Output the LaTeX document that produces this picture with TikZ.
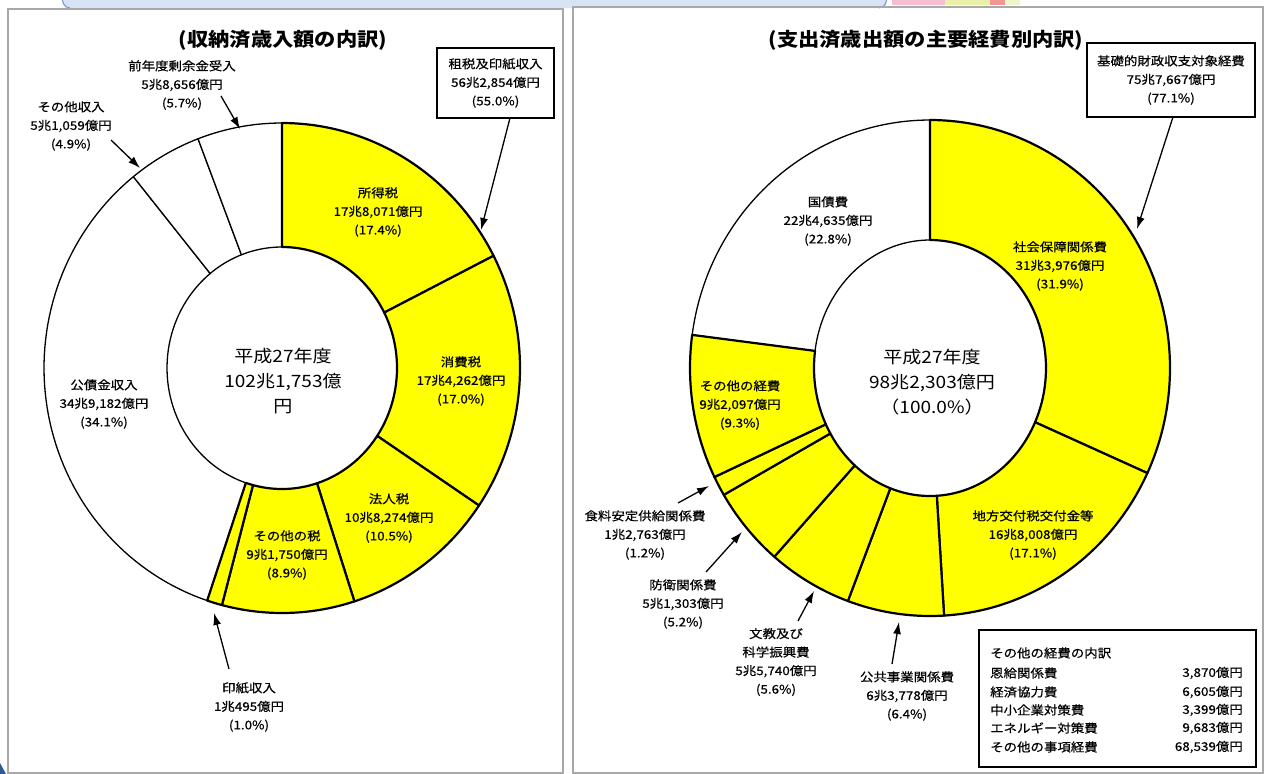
\documentclass[tikz,border=0pt]{standalone}
\usepackage{fontspec}
\setmainfont{Noto Sans CJK JP}[FakeStretch=1.12]
\newfontfamily\lblfont{Noto Sans CJK JP}[FakeStretch=1.12,FakeBold=0.5]
\usetikzlibrary{arrows.meta}
\definecolor{pyel}{RGB}{255,255,0}
\definecolor{panelgray}{RGB}{168,168,168}
\definecolor{bandblue}{RGB}{214,228,245}
\definecolor{bandline}{RGB}{110,140,190}
\definecolor{cornerblue}{RGB}{45,90,150}
\definecolor{flpink}{RGB}{245,190,210}
\definecolor{flyel}{RGB}{232,240,170}
\definecolor{flred}{RGB}{240,150,150}
\newcommand\ringsector[9]{%
  \draw[#9] plot[domain=#7:#8,samples=70] ({#1+#3*sin(\x)},{#2-#4*cos(\x)})
    -- plot[domain=#8:#7,samples=50] ({#1+#5*sin(\x)},{#2-#6*cos(\x)}) -- cycle;}
\begin{document}
\begin{tikzpicture}[x=1pt,y=-1pt,
  lbl/.style={align=center,font=\lblfont\fontsize{12}{18.5}\selectfont,inner sep=0pt},
  ctr/.style={align=center,font=\fontsize{17}{25}\selectfont,inner sep=0pt},
  ttl/.style={font=\bfseries\fontsize{19}{22}\selectfont,inner sep=0pt},
  boxn/.style={draw,line width=1.3pt,align=center,font=\lblfont\fontsize{12}{18.5}\selectfont,inner sep=0pt},
  rowt/.style={font=\lblfont\fontsize{12}{14}\selectfont,inner sep=0pt},
  arr/.style={line width=1.3pt,-{Latex[length=12pt,width=8pt]}},
  wsec/.style={fill=white,draw=black,line width=1.3pt,line join=round},
  ysec/.style={fill=pyel,draw=black,line width=2.2pt,line join=round}]
\useasboundingbox (0,0) rectangle (1275,774);
\fill[white] (0,0) rectangle (1275,774);
% top band and corner decoration
\fill[bandblue,rounded corners=6pt] (62,-10) rectangle (887,8);
\draw[bandline,line width=0.8pt] (62,-4) to[out=-90,in=180] (70,8);
\draw[bandline,line width=0.8pt] (887,-4) to[out=-90,in=0] (879,8);
\fill[flpink] (892,0) rectangle (945,5);
\fill[flyel] (945,0) rectangle (990,5);
\fill[flred] (990,0) rectangle (1005,5);
\fill[flyel!70] (1005,0) rectangle (1020,5);
\fill[cornerblue] (0,763) -- (6,774) -- (0,774) -- cycle;
% panels
\draw[panelgray,line width=1.6pt] (8,9) rectangle (563,773);
\draw[panelgray,line width=1.6pt] (573,7) rectangle (1263,773);

% ================= LEFT DONUT =================
\ringsector{282}{368}{238}{245}{115}{121}{198.32}{321.35}{wsec}
\ringsector{282}{368}{238}{245}{115}{121}{321.35}{339.34}{wsec}
\ringsector{282}{368}{238}{245}{115}{121}{339.34}{360}{wsec}
\ringsector{282}{368}{238}{245}{115}{121}{0}{62.74}{ysec}
\ringsector{282}{368}{238}{245}{115}{121}{62.74}{124.14}{ysec}
\ringsector{282}{368}{238}{245}{115}{121}{124.14}{162.29}{ysec}
\ringsector{282}{368}{238}{245}{115}{121}{162.29}{194.62}{ysec}
\ringsector{282}{368}{238}{245}{115}{121}{194.62}{198.32}{ysec}

\node[ttl] (ltitle) at (283,40) {(収納済歳入額の内訳)};
\node[ctr] (lcenter) at (283,381) {平成27年度\\102兆1,753億\\円};
\node[lbl] (shotoku) at (378,212) {所得税\\17兆8,071億円\\(17.4\%)};
\node[lbl] (shohi) at (461,381) {消費税\\17兆4,262億円\\(17.0\%)};
\node[lbl] (hojin) at (389,518) {法人税\\10兆8,274億円\\(10.5\%)};
\node[lbl] (sonotazei) at (287,555) {その他の税\\9兆1,750億円\\(8.9\%)};
\node[lbl] (kosai) at (104,404) {公債金収入\\34兆9,182億円\\(34.1\%)};
\node[lbl] (zennendo) at (182,85) {前年度剰余金受入\\5兆8,656億円\\(5.7\%)};
\node[lbl] (sonotashu) at (71,126) {その他収入\\5兆1,059億円\\(4.9\%)};
\node[lbl] (inshi) at (249,707) {印紙収入\\1兆495億円\\(1.0\%)};
\node[boxn,minimum width=117pt,minimum height=70pt] (sozei) at (495.5,83) {租税及印紙収入\\56兆2,854億円\\(55.0\%)};

\coordinate (sozeiS) at (510,118);
\coordinate (sozeiT) at (481,230);
\coordinate (zennendoS) at (221,96);
\coordinate (zennendoT) at (240,129);
\coordinate (sonotashuS) at (111,140);
\coordinate (sonotashuT) at (140,168);
\coordinate (inshiS) at (229,669);
\coordinate (inshiT) at (214,613);
\draw[arr] (sozeiS) -- (sozeiT);
\draw[arr] (zennendoS) -- (zennendoT);
\draw[arr] (sonotashuS) -- (sonotashuT);
\draw[arr] (inshiS) -- (inshiT);

% ================= RIGHT DONUT =================
\ringsector{930}{368}{240}{248}{116}{128}{277.67}{360}{wsec}
\ringsector{930}{368}{240}{248}{116}{128}{0}{115.07}{ysec}
\ringsector{930}{368}{240}{248}{116}{128}{115.07}{176.64}{ysec}
\ringsector{930}{368}{240}{248}{116}{128}{176.64}{200.01}{ysec}
\ringsector{930}{368}{240}{248}{116}{128}{200.01}{220.44}{ysec}
\ringsector{930}{368}{240}{248}{116}{128}{220.44}{239.24}{ysec}
\ringsector{930}{368}{240}{248}{116}{128}{239.24}{243.92}{ysec}
\ringsector{930}{368}{240}{248}{116}{128}{243.92}{277.67}{ysec}

\node[ttl] (rtitle) at (926,40) {(支出済歳出額の主要経費別内訳)};
\node[ctr] (rcenter) at (932,382) {平成27年度\\98兆2,303億円\\（100.0\%）};
\node[lbl] (kokusai) at (828,221) {国債費\\22兆4,635億円\\(22.8\%)};
\node[lbl] (shakai) at (1060,266) {社会保障関係費\\31兆3,976億円\\(31.9\%)};
\node[lbl] (chiho) at (1033,535) {地方交付税交付金等\\16兆8,008億円\\(17.1\%)};
\node[lbl] (sonotakei) at (740,405) {その他の経費\\9兆2,097億円\\(9.3\%)};
\node[lbl] (shokuryo) at (645,535) {食料安定供給関係費\\1兆2,763億円\\(1.2\%)};
\node[lbl] (boei) at (683,604) {防衛関係費\\5兆1,303億円\\(5.2\%)};
\node[lbl] (bunkyo) at (776,662) {文教及び\\科学振興費\\5兆5,740億円\\(5.6\%)};
\node[lbl] (kokyo) at (907,696) {公共事業関係費\\6兆3,778億円\\(6.4\%)};
\node[boxn,minimum width=168pt,minimum height=74pt] (kiso) at (1171,80) {基礎的財政収支対象経費\\75兆7,667億円\\(77.1\%)};

\coordinate (kisoS) at (1173,117);
\coordinate (kisoT) at (1137,229);
\coordinate (shokuryoS) at (678,503);
\coordinate (shokuryoT) at (709,486);
\coordinate (boeiS) at (706,572);
\coordinate (boeiT) at (742,532);
\coordinate (bunkyoS) at (798,621);
\coordinate (bunkyoT) at (814,591);
\coordinate (kokyoS) at (892,664);
\coordinate (kokyoT) at (899,622);
\draw[arr] (kisoS) -- (kisoT);
\draw[arr] (shokuryoS) -- (shokuryoT);
\draw[arr] (boeiS) -- (boeiT);
\draw[arr] (bunkyoS) -- (bunkyoT);
\draw[arr] (kokyoS) -- (kokyoT);

% breakdown box
\node[draw,line width=1.3pt,minimum width=277pt,minimum height=137pt,inner sep=0pt] (uchiwake) at (1117.5,698.5) {};
\node[rowt,anchor=west] (uTitle) at (990,653) {その他の経費の内訳};
\node[rowt,anchor=west] (u1) at (990,673) {恩給関係費};
\node[rowt,anchor=west] (u2) at (990,692) {経済協力費};
\node[rowt,anchor=west] (u3) at (990,710) {中小企業対策費};
\node[rowt,anchor=west] (u4) at (990,728) {エネルギー対策費};
\node[rowt,anchor=west] (u5) at (990,747) {その他の事項経費};
\node[rowt,anchor=east] (v1) at (1243,673) {3,870億円};
\node[rowt,anchor=east] (v2) at (1243,692) {6,605億円};
\node[rowt,anchor=east] (v3) at (1243,710) {3,399億円};
\node[rowt,anchor=east] (v4) at (1243,728) {9,683億円};
\node[rowt,anchor=east] (v5) at (1243,747) {68,539億円};
\end{tikzpicture}
\end{document}
